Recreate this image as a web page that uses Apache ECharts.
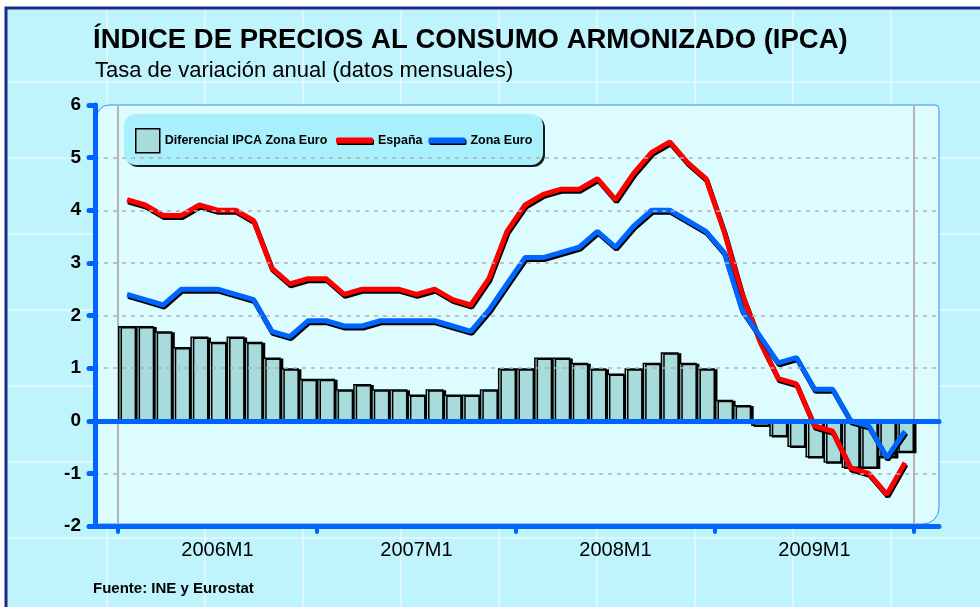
<!DOCTYPE html>
<html>
<head>
<meta charset="utf-8">
<script src="https://cdn.jsdelivr.net/npm/echarts@6/dist/echarts.min.js"></script>
<style>
html, body { margin: 0; padding: 0; background: #fff; }
#grafico { width: 980px; height: 607px; }
</style>
</head>
<body>
<div id="grafico"></div>
<script>
// DATOS
var meses = [
  '2006M1','2006M2','2006M3','2006M4','2006M5','2006M6','2006M7','2006M8','2006M9','2006M10','2006M11','2006M12',
  '2007M1','2007M2','2007M3','2007M4','2007M5','2007M6','2007M7','2007M8','2007M9','2007M10','2007M11','2007M12',
  '2008M1','2008M2','2008M3','2008M4','2008M5','2008M6','2008M7','2008M8','2008M9','2008M10','2008M11','2008M12',
  '2009M1','2009M2','2009M3','2009M4','2009M5','2009M6','2009M7','2009M8'
];
var etiquetasAnio = ['2006M1', '2007M1', '2008M1', '2009M1'];

var espana = [
  4.2, 4.1, 3.9, 3.9, 4.1, 4.0, 4.0, 3.8, 2.9, 2.6, 2.7, 2.7,
  2.4, 2.5, 2.5, 2.5, 2.4, 2.5, 2.3, 2.2, 2.7, 3.6, 4.1, 4.3,
  4.4, 4.4, 4.6, 4.2, 4.7, 5.1, 5.3, 4.9, 4.6, 3.6, 2.4, 1.5,
  0.8, 0.7, -0.1, -0.2, -0.9, -1.0, -1.4, -0.8
];
var zonaEuro = [
  2.4, 2.3, 2.2, 2.5, 2.5, 2.5, 2.4, 2.3, 1.7, 1.6, 1.9, 1.9,
  1.8, 1.8, 1.9, 1.9, 1.9, 1.9, 1.8, 1.7, 2.1, 2.6, 3.1, 3.1,
  3.2, 3.3, 3.6, 3.3, 3.7, 4.0, 4.0, 3.8, 3.6, 3.2, 2.1, 1.6,
  1.1, 1.2, 0.6, 0.6, 0.0, -0.1, -0.7, -0.2
];
var diferencial = [
  1.8, 1.8, 1.7, 1.4, 1.6, 1.5, 1.6, 1.5, 1.2, 1.0, 0.8, 0.8,
  0.6, 0.7, 0.6, 0.6, 0.5, 0.6, 0.5, 0.5, 0.6, 1.0, 1.0, 1.2,
  1.2, 1.1, 1.0, 0.9, 1.0, 1.1, 1.3, 1.1, 1.0, 0.4, 0.3, -0.1,
  -0.3, -0.5, -0.7, -0.8, -0.9, -0.9, -0.7, -0.6
];

// COLORES
var AZUL = '#0064ff';
var ROJO = '#ff0000';
var BARRA = '#a8dcdc';
var FUENTE = 'Liberation Sans, Arial, sans-serif';

// FONDO: lineas blancas suaves
var fondo = [];
for (var x = 107; x < 980; x += 98) {
  fondo.push({ type: 'line', z: -9, shape: { x1: x, y1: 10, x2: x, y2: 607 },
    style: { stroke: 'rgba(255,255,255,0.6)', lineWidth: 1.5 } });
}
for (var y = 82; y < 607; y += 76) {
  fondo.push({ type: 'line', z: -9, shape: { x1: 8, y1: y, x2: 980, y2: y },
    style: { stroke: 'rgba(255,255,255,0.6)', lineWidth: 1.5 } });
}

var myChart = echarts.init(document.getElementById('grafico'));

var option = {
  backgroundColor: '#ffffff',
  animation: false,
  textStyle: { fontFamily: FUENTE },
  title: [
    { text: 'ÍNDICE DE PRECIOS AL CONSUMO ARMONIZADO (IPCA)', left: 93, top: 26, padding: 0,
      textStyle: { fontFamily: FUENTE, fontSize: 27.5, fontWeight: 'bold', color: '#000' } },
    { text: 'Tasa de variación anual (datos mensuales)', left: 95, top: 60, padding: 0,
      textStyle: { fontFamily: FUENTE, fontSize: 22, fontWeight: 'normal', color: '#000' } },
    { text: 'Fuente: INE y Eurostat', left: 93, top: 581, padding: 0,
      textStyle: { fontFamily: FUENTE, fontSize: 15, fontWeight: 'bold', color: '#000' } }
  ],
  graphic: fondo.concat([
    { type: 'rect', z: -10, shape: { x: 6, y: 8, width: 990, height: 620 },
      style: { fill: '#c0f4fc', stroke: '#1c2a8a', lineWidth: 3 } },
    { type: 'rect', z: -5, shape: { x: 97, y: 105, width: 842, height: 419, r: [12, 4, 16, 0] },
      style: { fill: '#dcfcff', stroke: '#3c8cf0', lineWidth: 1 } },
    { type: 'rect', z: 3, shape: { x: 124, y: 114, width: 419, height: 51, r: 12 },
      style: { fill: '#a8f0fc', shadowColor: 'rgba(0,0,0,0.9)', shadowOffsetX: 2, shadowOffsetY: 2, shadowBlur: 0 } }
  ]),
  legend: [
    { data: ['Diferencial IPCA Zona Euro'], left: 135, top: 128, padding: 0, itemWidth: 24, itemHeight: 24,
      icon: 'rect', itemGap: 8, z: 6,
      itemStyle: { borderColor: '#000', borderWidth: 1.5, shadowColor: 'transparent' },
      textStyle: { fontFamily: FUENTE, fontSize: 12.5, fontWeight: 'bold', color: '#000' } },
    { data: ['España', 'Zona Euro'], left: 336, top: 134, padding: 0, itemWidth: 37, itemHeight: 6,
      icon: 'roundRect', itemGap: 6, z: 6,
      itemStyle: { shadowColor: '#000', shadowOffsetX: 1, shadowOffsetY: 1.5, shadowBlur: 0 },
      textStyle: { fontFamily: FUENTE, fontSize: 12.5, fontWeight: 'bold', color: '#000' } }
  ],
  grid: [
    { left: 95, right: 41, top: 105, bottom: 81 },
    { left: 118, right: 66, top: 105, bottom: 81 }
  ],
  xAxis: [
    // linea inferior
    { type: 'value', gridIndex: 0, min: 0, max: 1, position: 'bottom', z: 5,
      axisLine: { show: true, onZero: false, lineStyle: { color: AZUL, width: 5 } },
      axisTick: { show: false }, axisLabel: { show: false }, splitLine: { show: false } },
    // linea del cero
    { type: 'value', gridIndex: 0, min: 0, max: 1, position: 'top', z: 5,
      axisLine: { show: true, onZero: true, lineStyle: { color: AZUL, width: 5 } },
      axisTick: { show: false }, axisLabel: { show: false }, splitLine: { show: false } },
    // meses
    { type: 'category', gridIndex: 1, data: meses, boundaryGap: true, position: 'bottom', z: 5,
      axisLine: { show: false, onZero: false },
      axisTick: { show: true, interval: 10, length: 6, lineStyle: { color: AZUL, width: 4, cap: 'round' } },
      axisLabel: {
        interval: function (idx) { return idx % 11 === 5; },
        formatter: function (v, idx) { return etiquetasAnio[Math.floor(idx / 11)]; },
        margin: 14, fontFamily: FUENTE, fontSize: 20, color: '#000'
      },
      splitLine: { show: false }
    }
  ],
  yAxis: [
    { type: 'value', gridIndex: 0, min: -2, max: 6, interval: 1, z: 5,
      axisLine: { show: true, onZero: false, lineStyle: { color: AZUL, width: 5, cap: 'round' } },
      axisTick: { show: true, length: 6, lineStyle: { color: AZUL, width: 5, cap: 'round' } },
      axisLabel: { margin: 14, fontFamily: FUENTE, fontSize: 19, fontWeight: 'bold', color: '#000' },
      splitLine: { show: true, lineStyle: { type: [4, 5], width: 1.5,
        color: ['transparent', '#b0b0b0', 'transparent', '#b0b0b0', '#b0b0b0', '#b0b0b0', '#b0b0b0', '#b0b0b0', 'transparent'] } } },
    { type: 'value', gridIndex: 1, min: -2, max: 6, interval: 1, position: 'left',
      axisLine: { show: true, onZero: false, lineStyle: { color: '#b4b4b4', width: 2 } },
      axisTick: { show: false }, axisLabel: { show: false }, splitLine: { show: false } },
    { type: 'value', gridIndex: 1, min: -2, max: 6, interval: 1, position: 'right',
      axisLine: { show: true, onZero: false, lineStyle: { color: '#b4b4b4', width: 2 } },
      axisTick: { show: false }, axisLabel: { show: false }, splitLine: { show: false } }
  ],
  series: [
    {
      name: 'Diferencial IPCA Zona Euro', type: 'bar', xAxisIndex: 2, yAxisIndex: 1,
      data: diferencial, barCategoryGap: '0%',
      itemStyle: { color: BARRA, borderColor: '#000', borderWidth: 1.5,
        shadowColor: '#000', shadowOffsetX: 2.5, shadowOffsetY: 1, shadowBlur: 0 }
    },
    {
      name: 'España', type: 'line', xAxisIndex: 2, yAxisIndex: 1, data: espana,
      symbol: 'none', z: 3, color: ROJO,
      lineStyle: { color: ROJO, width: 5, shadowColor: '#000', shadowOffsetX: 1, shadowOffsetY: 2, shadowBlur: 0 }
    },
    {
      name: 'Zona Euro', type: 'line', xAxisIndex: 2, yAxisIndex: 1, data: zonaEuro,
      symbol: 'none', z: 4, color: AZUL,
      lineStyle: { color: AZUL, width: 5, shadowColor: '#000', shadowOffsetX: 1, shadowOffsetY: 2, shadowBlur: 0 }
    }
  ]
};

myChart.setOption(option);
</script>
</body>
</html>
